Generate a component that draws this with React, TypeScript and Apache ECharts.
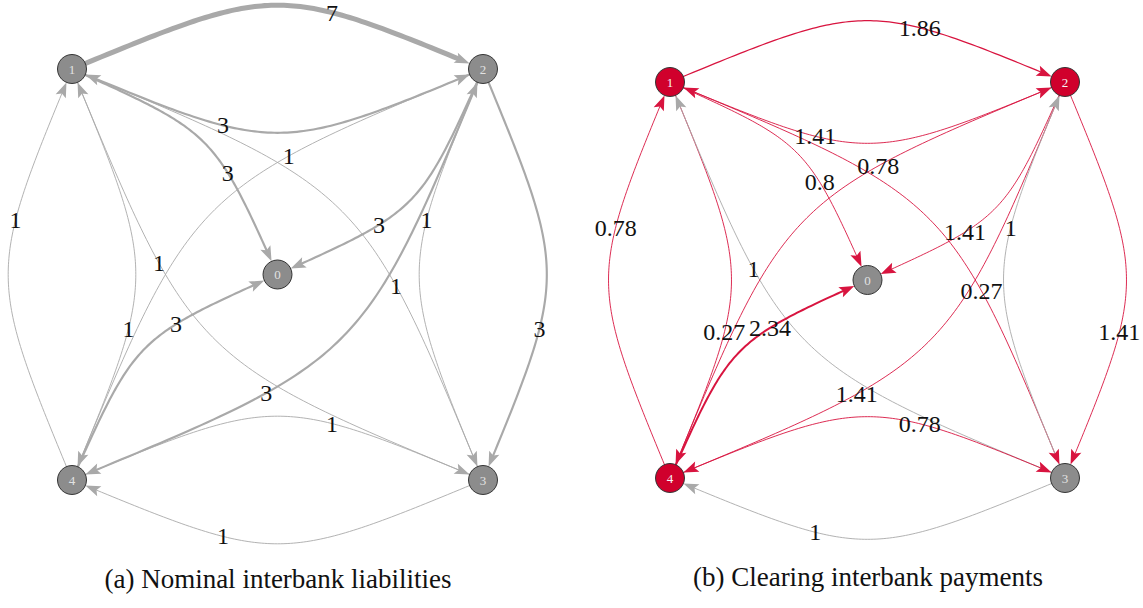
import React, { useEffect, useRef } from 'react';
import * as echarts from 'echarts';

// ---- data ----
const nodeNames = ['0', '1', '2', '3', '4'];
const nodeX = [0, -1, 1, 1, -1];
const nodeY = [0, 1, 1, -1, -1];
const edgeFrom = [1, 1, 1, 1, 2, 2, 2, 2, 3, 3, 3, 4, 4, 4, 4];
const edgeTo = [2, 0, 3, 4, 1, 0, 3, 4, 1, 2, 4, 0, 1, 2, 3];
const liabilities = [7, 3, 1, 1, 3, 3, 3, 3, 1, 1, 1, 3, 1, 1, 1];
const payments = [1.86, 0.8, 0.27, 0.27, 1.41, 1.41, 1.41, 1.41, 1, 1, 1, 2.34, 0.78, 0.78, 0.78];
const defaulted = [false, true, true, false, true];
const captions = ['(a) Nominal interbank liabilities', '(b) Clearing interbank payments'];

const GREY_EDGE = '#a9a9a9';
const RED_EDGE = '#d8143f';
const GREY_NODE = '#8c8c8c';
const RED_NODE = '#d0002c';
const R = 14.5;
const ARROW_LEN = 15;
const ARROW_HW = 5.5;
const NOTCH = 3;
const LABEL_FONT = "24px 'Liberation Serif', serif";
const CAPTION_FONT = "27px 'Liberation Serif', serif";

function makeRenderItem(panel: number) {
  return (params: any, api: any) => {
    const from = api.value(0);
    const to = api.value(1);
    const w = api.value(2);
    const p0 = api.coord([nodeX[from], nodeY[from]]);
    const p2 = api.coord([nodeX[to], nodeY[to]]);
    const dx = p2[0] - p0[0];
    const dy = p2[1] - p0[1];
    const diagonal = Math.abs(dx) > 1 && Math.abs(dy) > 1 && to !== 0;
    const k = to === 0 ? 0.19 : 0.207;
    const cx = (p0[0] + p2[0]) / 2 + dy * k;
    const cy = (p0[1] + p2[1]) / 2 - dx * k;
    const B = (t: number) => {
      const a = (1 - t) * (1 - t) * (1 - t);
      const b = 3 * t * (1 - t);
      const d = t * t * t;
      return [a * p0[0] + b * cx + d * p2[0], a * p0[1] + b * cy + d * p2[1]];
    };
    const distTo = (p: number[], q: number[]) => Math.hypot(p[0] - q[0], p[1] - q[1]);
    const tEnd = (dd: number) => {
      let lo = 0.5, hi = 1;
      for (let i = 0; i < 40; i++) {
        const m = (lo + hi) / 2;
        if (distTo(B(m), p2) > dd) lo = m; else hi = m;
      }
      return (lo + hi) / 2;
    };
    const tStartF = (dd: number) => {
      let lo = 0, hi = 0.5;
      for (let i = 0; i < 40; i++) {
        const m = (lo + hi) / 2;
        if (distTo(B(m), p0) < dd) lo = m; else hi = m;
      }
      return (lo + hi) / 2;
    };
    const t0 = tStartF(R - 2);
    const tTip = tEnd(R);
    const tBack = tEnd(R + ARROW_LEN);
    const tLine = tEnd(R + ARROW_LEN - NOTCH - 1);
    const pts: number[][] = [];
    const N = 90;
    for (let i = 0; i <= N; i++) {
      pts.push(B(t0 + (tLine - t0) * (i / N)));
    }
    const tip = B(tTip);
    const back = B(tBack);
    let ux = tip[0] - back[0];
    let uy = tip[1] - back[1];
    const ul = Math.hypot(ux, uy) || 1;
    ux /= ul; uy /= ul;
    const px = -uy, py = ux;
    const bx = tip[0] - ux * ARROW_LEN;
    const by = tip[1] - uy * ARROW_LEN;
    const arrow = [
      tip,
      [bx + px * ARROW_HW, by + py * ARROW_HW],
      [tip[0] - ux * (ARROW_LEN - NOTCH), tip[1] - uy * (ARROW_LEN - NOTCH)],
      [bx - px * ARROW_HW, by - py * ARROW_HW],
    ];
    const color = panel === 0 ? GREY_EDGE : (defaulted[from] ? RED_EDGE : GREY_EDGE);
    const width = panel === 0 ? Math.max(0.9, w * 0.72) : Math.max(0.9, 0.36 * w * w);
    const lp = B(diagonal ? 0.7 : 0.67);
    return {
      type: 'group',
      children: [
        {
          type: 'polyline',
          z2: 1,
          shape: { points: pts },
          style: { stroke: color, lineWidth: width, fill: null, lineJoin: 'round' },
          silent: true,
        },
        {
          type: 'polygon',
          z2: 2,
          shape: { points: arrow },
          style: { fill: color, stroke: null },
          silent: true,
        },
        {
          type: 'text',
          z2: 10,
          x: lp[0],
          y: lp[1],
          style: {
            text: String(w),
            fill: '#111',
            font: LABEL_FONT,
            align: 'center',
            verticalAlign: 'middle',
          },
          silent: true,
        },
      ],
    };
  };
}

function nodeData(panel: number) {
  return nodeNames.map((name, i) => ({
    value: [nodeX[i], nodeY[i]],
    name,
    itemStyle: { color: panel === 1 && defaulted[i] ? RED_NODE : GREY_NODE },
    label: { color: panel === 1 && defaulted[i] ? '#f6f6f6' : '#e2e2e2' },
  }));
}

function edgeData(values: number[]) {
  return edgeFrom.map((f, i) => [f, edgeTo[i], values[i]]);
}

export default function App() {
  const ref = useRef<HTMLDivElement>(null);
  useEffect(() => {
    if (!ref.current) return;
    const chart = echarts.init(ref.current, undefined, { renderer: 'svg' });
    const grids = [
      { left: 72, top: 69, width: 411, height: 411 },
      { left: 670, top: 82, width: 395, height: 396 },
    ];
    const option: any = {
      animation: false,
      backgroundColor: '#ffffff',
      textStyle: { fontFamily: 'Liberation Serif' },
      grid: grids,
      xAxis: [0, 1].map((g) => ({ type: 'value', min: -1, max: 1, show: false, gridIndex: g })),
      yAxis: [0, 1].map((g) => ({ type: 'value', min: -1, max: 1, show: false, gridIndex: g })),
      series: [
        {
          type: 'custom',
          xAxisIndex: 0,
          yAxisIndex: 0,
          clip: false,
          z: 2,
          renderItem: makeRenderItem(0),
          data: edgeData(liabilities),
        },
        {
          type: 'custom',
          xAxisIndex: 1,
          yAxisIndex: 1,
          clip: false,
          z: 2,
          renderItem: makeRenderItem(1),
          data: edgeData(payments),
        },
        ...[0, 1].map((p) => ({
          type: 'scatter',
          xAxisIndex: p,
          yAxisIndex: p,
          z: 5,
          symbol: 'circle',
          symbolSize: 29,
          itemStyle: { borderColor: '#333333', borderWidth: 1, opacity: 1 },
          label: {
            show: true,
            position: 'inside',
            formatter: '{b}',
            fontFamily: 'Liberation Serif',
            fontSize: 13,
          },
          emphasis: { disabled: true },
          data: nodeData(p),
        })),
      ],
      graphic: [
        {
          type: 'text',
          x: 278,
          y: 579,
          style: {
            text: captions[0],
            font: CAPTION_FONT,
            fill: '#111',
            align: 'center',
            verticalAlign: 'middle',
          },
        },
        {
          type: 'text',
          x: 868,
          y: 577,
          style: {
            text: captions[1],
            font: CAPTION_FONT,
            fill: '#111',
            align: 'center',
            verticalAlign: 'middle',
          },
        },
      ],
    };
    chart.setOption(option);
    return () => chart.dispose();
  }, []);
  return (
    <div
      ref={ref}
      style={{ position: 'absolute', left: 0, top: 0, width: 1143, height: 608, background: '#fff' }}
    />
  );
}
